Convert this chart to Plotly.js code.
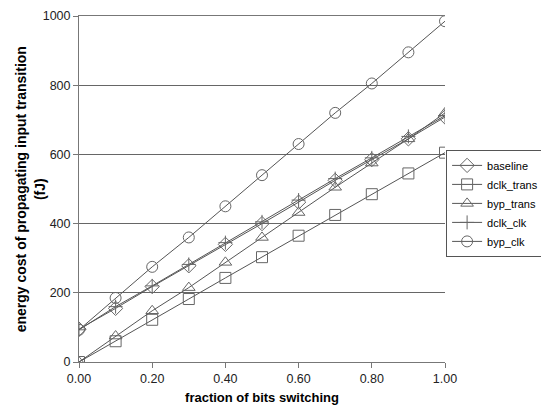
<!DOCTYPE html>
<html><head><meta charset="utf-8">
<script src="https://cdn.plot.ly/plotly-3.0.1.min.js"></script>
<style>html,body{margin:0;padding:0;background:#fff}</style>
</head><body><div id="c" style="width:541px;height:413px"></div>
<script>
const x = [0, 0.1, 0.2, 0.3, 0.4, 0.5, 0.6, 0.7, 0.8, 0.9, 1.0];
const baseline   = [95, 155, 218, 278, 340, 400, 462, 525, 585, 645, 708];
const dclk_trans = [0, 60, 122, 182, 243, 303, 365, 425, 485, 545, 605];
const byp_trans  = [0, 75, 148, 215, 288, 360, 432, 505, 575, 645, 720];
const dclk_clk   = [93, 160, 220, 282, 345, 405, 468, 530, 590, 652, 712];
const byp_clk    = [93, 185, 275, 360, 450, 540, 630, 720, 805, 895, 985];
const names = ["baseline", "dclk_trans", "byp_trans", "dclk_clk", "byp_clk"];
const series = [baseline, dclk_trans, byp_trans, dclk_clk, byp_clk];
const symbols = ["diamond-open", "square-open", "triangle-up-open", "cross-thin-open", "circle-open"];
const traces = series.map((y, i) => ({
  x: x, y: y, name: names[i], type: "scatter", mode: "lines+markers",
  line: {color: "#555", width: 1},
  marker: {symbol: symbols[i], size: i === 3 ? 10 : 11, color: "#666", line: {color: "#666", width: 1}}
}));
const layout = {
  width: 541, height: 413,
  margin: {l: 79, r: 96, t: 16, b: 51, autoexpand: false},
  paper_bgcolor: "#fff", plot_bgcolor: "#fff",
  font: {family: "Arial, Liberation Sans, sans-serif", size: 12, color: "#000"},
  showlegend: true,
  legend: {x: 1.003, y: 0.613, xanchor: "left", yanchor: "top",
           bordercolor: "#555", borderwidth: 1,
           font: {size: 11}, tracegroupgap: 0, itemwidth: 30, bgcolor: "#fff"},
  xaxis: {range: [0, 1], tickvals: x.filter((v, i) => i % 2 === 0), tickformat: ".2f",
          showgrid: false, zeroline: false, showline: true, linecolor: "#777", mirror: true,
          ticks: "outside", ticklen: 5, tickcolor: "#777", tickfont: {size: 12.5, color: "#222"},
          title: {text: "<b>fraction of bits switching</b>", font: {size: 13}, standoff: 7}},
  yaxis: {range: [0, 1000], tickvals: [0, 200, 400, 600, 800, 1000],
          showgrid: true, gridcolor: "#666", gridwidth: 1, zeroline: false,
          showline: true, linecolor: "#777", ticks: "outside", ticklen: 5, tickcolor: "#777",
          tickfont: {size: 12.5, color: "#222"}},
  annotations: [{
    text: "<b>energy cost of propagating input transition<br>(fJ)</b>",
    xref: "paper", yref: "paper", x: -0.133, y: 0.5, xanchor: "center", yanchor: "middle",
    textangle: -90, showarrow: false, font: {size: 14, color: "#000"}
  }]
};
Plotly.newPlot("c", traces, layout, {displayModeBar: false});
</script></body></html>
